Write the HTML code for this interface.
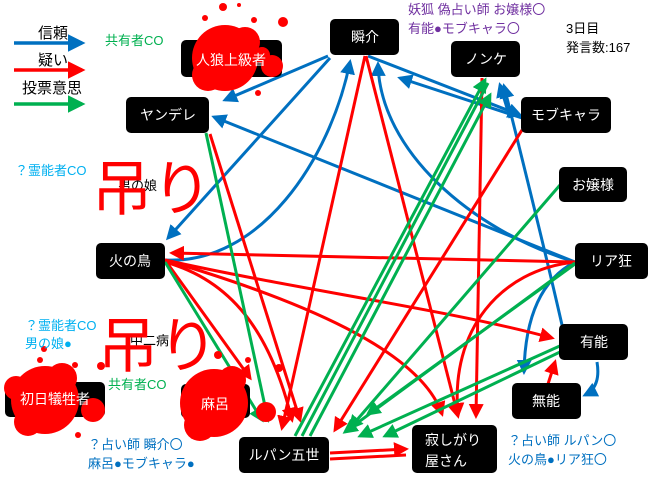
<!DOCTYPE html>
<html><head><meta charset="utf-8"><style>
body{margin:0;background:#fff;width:660px;height:477px;overflow:hidden}
svg{display:block}
text{font-family:"Liberation Sans","Noto Sans CJK JP",sans-serif}
.n{fill:#000}
.t{fill:#fff;font-size:14px;text-anchor:middle}
</style></head><body>
<svg width="660" height="477" viewBox="0 0 660 477">
<defs>
<marker id="b" markerWidth="5" markerHeight="5" refX="4" refY="2.5" orient="auto" markerUnits="strokeWidth"><path d="M0,0L5,2.5L0,5z" fill="#0070c0"/></marker>
<marker id="r" markerWidth="5" markerHeight="5" refX="4" refY="2.5" orient="auto" markerUnits="strokeWidth"><path d="M0,0L5,2.5L0,5z" fill="#ff0000"/></marker>
<marker id="g" markerWidth="5" markerHeight="5" refX="4" refY="2.5" orient="auto" markerUnits="strokeWidth"><path d="M0,0L5,2.5L0,5z" fill="#00b050"/></marker>
</defs>
<!-- legend -->
<text x="38" y="38" font-size="15">信頼</text>
<line x1="14" y1="43" x2="82" y2="43" stroke="#0070c0" stroke-width="3.5" marker-end="url(#b)"/>
<text x="38" y="65" font-size="15">疑い</text>
<line x1="14" y1="70" x2="82" y2="70" stroke="#f00" stroke-width="3.5" marker-end="url(#r)"/>
<text x="22" y="93" font-size="15">投票意思</text>
<line x1="14" y1="104" x2="82" y2="104" stroke="#00b050" stroke-width="3.5" marker-end="url(#g)"/>

<g fill="none" stroke-width="3">
<line x1="328" y1="56" x2="225" y2="100" stroke="#0070c0" marker-end="url(#b)"/>
<line x1="575" y1="262" x2="214" y2="117" stroke="#0070c0" marker-end="url(#b)"/>
<line x1="330" y1="58" x2="168" y2="238" stroke="#0070c0" marker-end="url(#b)"/>
<path d="M165,260 C260,265 330,160 350,62" stroke="#0070c0" marker-end="url(#b)"/>
<path d="M575,262 C470,230 380,150 378,64" stroke="#0070c0" marker-end="url(#b)"/>
<line x1="368" y1="56" x2="520" y2="115" stroke="#0070c0" marker-end="url(#b)"/>
<line x1="522" y1="118" x2="400" y2="78" stroke="#0070c0" marker-end="url(#b)"/>
<line x1="510" y1="118" x2="500" y2="85" stroke="#0070c0" marker-end="url(#b)"/>
<path d="M562,325 C545,250 520,150 504,86" stroke="#0070c0" marker-end="url(#b)"/>
<path d="M575,262 C540,280 525,320 524,372" stroke="#0070c0" marker-end="url(#b)"/>
<path d="M597,362 C600,380 595,390 585,395" stroke="#0070c0" marker-end="url(#b)"/>
<line x1="365" y1="56" x2="282" y2="428" stroke="#f00" marker-end="url(#r)"/>
<line x1="366" y1="56" x2="458" y2="416" stroke="#f00" marker-end="url(#r)"/>
<line x1="482" y1="78" x2="476" y2="416" stroke="#f00" marker-end="url(#r)"/>
<line x1="522" y1="130" x2="335" y2="430" stroke="#f00" marker-end="url(#r)"/>
<line x1="575" y1="262" x2="172" y2="253" stroke="#f00" marker-end="url(#r)"/>
<path d="M165,260 C300,290 450,310 552,338" stroke="#f00" marker-end="url(#r)"/>
<path d="M165,260 C300,300 420,350 442,414" stroke="#f00" marker-end="url(#r)"/>
<line x1="165" y1="260" x2="250" y2="378" stroke="#f00" marker-end="url(#r)"/>
<path d="M165,262 C230,280 270,330 292,420" stroke="#f00" marker-end="url(#r)"/>
<line x1="210" y1="134" x2="300" y2="420" stroke="#f00" marker-end="url(#r)"/>
<path d="M575,262 C500,270 450,330 458,415" stroke="#f00" marker-end="url(#r)"/>
<line x1="548" y1="384" x2="555" y2="362" stroke="#f00" marker-end="url(#r)"/>
<line x1="330" y1="453" x2="406" y2="449" stroke="#f00" marker-end="url(#r)"/>
<line x1="330" y1="459" x2="406" y2="455" stroke="#f00"/>
<line x1="206" y1="133" x2="268" y2="420" stroke="#00b050" marker-end="url(#g)"/>
<line x1="165" y1="262" x2="262" y2="420" stroke="#00b050" marker-end="url(#g)"/>
<line x1="295" y1="436" x2="485" y2="80" stroke="#00b050" marker-end="url(#g)"/>
<line x1="302" y1="436" x2="488" y2="83" stroke="#00b050"/>
<line x1="310" y1="436" x2="490" y2="95" stroke="#00b050" marker-end="url(#g)"/>
<line x1="560" y1="185" x2="350" y2="428" stroke="#00b050" marker-end="url(#g)"/>
<line x1="575" y1="263" x2="345" y2="432" stroke="#00b050" marker-end="url(#g)"/>
<line x1="575" y1="264" x2="368" y2="414" stroke="#00b050" marker-end="url(#g)"/>
<line x1="560" y1="352" x2="385" y2="436" stroke="#00b050" marker-end="url(#g)"/>
<line x1="562" y1="345" x2="360" y2="436" stroke="#00b050" marker-end="url(#g)"/>
</g>

<rect class="n" x="181" y="40" width="101" height="37" rx="5"/>
<rect class="n" x="126" y="97" width="83" height="36" rx="5"/><text class="t" x="168" y="120">ヤンデレ</text>
<rect class="n" x="330" y="19" width="69" height="36" rx="5"/><text class="t" x="365" y="42">瞬介</text>
<rect class="n" x="451" y="41" width="69" height="36" rx="5"/><text class="t" x="486" y="64">ノンケ</text>
<rect class="n" x="521" y="97" width="90" height="36" rx="5"/><text class="t" x="566" y="120">モブキャラ</text>
<rect class="n" x="559" y="167" width="68" height="35" rx="5"/><text class="t" x="593" y="190">お嬢様</text>
<rect class="n" x="575" y="243" width="73" height="36" rx="5"/><text class="t" x="611" y="266">リア狂</text>
<rect class="n" x="559" y="324" width="69" height="36" rx="5"/><text class="t" x="594" y="347">有能</text>
<rect class="n" x="512" y="383" width="69" height="36" rx="5"/><text class="t" x="546" y="406">無能</text>
<rect class="n" x="96" y="243" width="69" height="36" rx="5"/><text class="t" x="130" y="266">火の鳥</text>
<rect class="n" x="5" y="382" width="100" height="35" rx="5"/>
<rect class="n" x="181" y="384" width="69" height="34" rx="5"/>
<rect class="n" x="239" y="437" width="90" height="36" rx="5"/><text class="t" x="284" y="460">ルパン五世</text>
<rect class="n" x="412" y="425" width="85" height="48" rx="5"/>
<text x="425" y="445" font-size="14" fill="#fff">寂しがり</text><text x="425" y="466" font-size="14" fill="#fff">屋さん</text>

<g fill="#f00">
<circle cx="225" cy="58" r="33"/><circle cx="208" cy="75" r="16"/><circle cx="245" cy="42" r="15"/><circle cx="272" cy="66" r="11"/><circle cx="262" cy="55" r="8"/>
<circle cx="223" cy="7" r="4"/><circle cx="239" cy="5" r="2"/><circle cx="254" cy="20" r="3"/><circle cx="283" cy="22" r="5"/><circle cx="258" cy="93" r="3"/><circle cx="205" cy="18" r="3"/>
<circle cx="45" cy="400" r="34"/><circle cx="28" cy="422" r="14"/><circle cx="62" cy="378" r="15"/><circle cx="93" cy="410" r="12"/><circle cx="16" cy="388" r="12"/><circle cx="40" cy="360" r="3"/><circle cx="75" cy="365" r="3"/><circle cx="78" cy="435" r="3"/><circle cx="44" cy="349" r="3"/><circle cx="101" cy="366" r="4"/>
<circle cx="214" cy="403" r="34"/><circle cx="200" cy="425" r="16"/><circle cx="232" cy="380" r="14"/><circle cx="266" cy="412" r="10"/><circle cx="218" cy="355" r="4"/><circle cx="279" cy="368" r="4"/><circle cx="248" cy="360" r="3"/><circle cx="193" cy="436" r="3"/>
</g>
<text x="231" y="65" class="t">人狼上級者</text>
<text x="55" y="404" class="t">初日犠牲者</text>
<text x="215" y="409" class="t">麻呂</text>

<text x="105" y="45" font-size="13" fill="#00b050">共有者CO</text>
<text x="15" y="175" font-size="13" fill="#00b0f0">？霊能者CO</text>
<text x="118" y="190" font-size="13">男の娘</text>
<text x="92" y="210" font-size="60" fill="#f00">吊り</text>
<text x="25" y="330" font-size="13" fill="#00b0f0">？霊能者CO</text>
<text x="25" y="348" font-size="13" fill="#00b0f0">男の娘●</text>
<text x="130" y="345" font-size="13">中二病</text>
<text x="98" y="367" font-size="60" fill="#f00">吊り</text>
<text x="108" y="389" font-size="13" fill="#00b050">共有者CO</text>
<text x="88" y="449" font-size="13" fill="#0070c0">？占い師 瞬介〇</text>
<text x="88" y="468" font-size="13" fill="#0070c0">麻呂●モブキャラ●</text>
<text x="408" y="14" font-size="13" fill="#7030a0">妖狐 偽占い師 お嬢様〇</text>
<text x="408" y="33" font-size="13" fill="#7030a0">有能●モブキャラ〇</text>
<text x="566" y="33" font-size="13">3日目</text>
<text x="566" y="52" font-size="13">発言数:167</text>
<text x="508" y="445" font-size="13" fill="#0070c0">？占い師 ルパン〇</text>
<text x="508" y="464" font-size="13" fill="#0070c0">火の鳥●リア狂〇</text>
</svg>
</body></html>
